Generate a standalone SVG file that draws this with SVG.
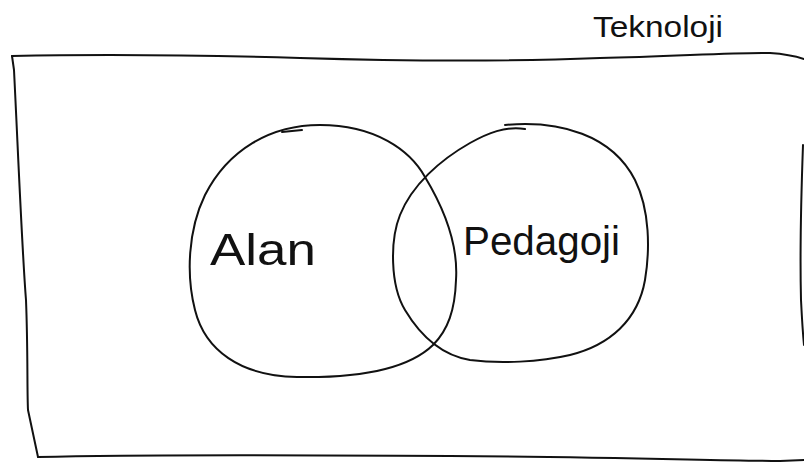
<svg xmlns="http://www.w3.org/2000/svg" width="804" height="466" viewBox="0 0 804 466">
  <style>
    .ink { fill: none; stroke: #111; stroke-width: 2; stroke-linecap: round; stroke-linejoin: round; }
    .lbl { font-family: "Liberation Sans", "DejaVu Sans", sans-serif; fill: #111; }
  </style>
  <rect width="804" height="466" fill="#fff"/>
  <g id="teknoloji">
    <path class="ink" d="M 12,56 C 100,54 200,55 300,58 C 400,61 500,62 600,58 C 680,56 740,52 770,53 C 785,54 795,56 804,59"/>
    <path class="ink" d="M 12,56 L 14,70 C 18,150 22,250 26,300 C 28,350 27,390 28,410 L 38,457"/>
    <path class="ink" d="M 38,457 C 150,454 300,455 450,456 C 600,457 700,460 780,461 L 804,460"/>
    <path class="ink" d="M 803,145 C 801,200 800,260 801,300 C 802,320 803,335 804,345"/>
    <text class="lbl" x="593" y="37" font-size="30" textLength="130" lengthAdjust="spacingAndGlyphs">Teknoloji</text>
  </g>
  <g id="alan">
    <path class="ink" d="M 320,125 C 375,125 410,150 425,177 C 448,215 458,250 456,280 C 455,310 448,330 433,345 C 405,372 350,378 297,377 C 240,376 205,350 195,310 C 186,275 188,230 205,195 C 228,150 270,125 320,125 Z"/>
    <path class="ink" d="M 282,132 L 302,130" stroke-width="3"/>
    <text class="lbl" x="210" y="265" font-size="44" textLength="106" lengthAdjust="spacingAndGlyphs">Alan</text>
  </g>
  <g id="pedagoji">
    <path class="ink" d="M 505,125 C 560,120 612,135 635,180 C 650,210 650,250 645,280 C 638,320 610,345 570,355 C 540,362 500,364 470,360 C 440,355 420,335 405,310 C 390,285 390,240 400,215 C 412,185 440,160 470,143 C 488,133 505,126 525,129"/>
    <text class="lbl" x="463" y="255" font-size="40" textLength="157" lengthAdjust="spacingAndGlyphs">Pedagoji</text>
  </g>
  <g id="connectors"/>
</svg>
